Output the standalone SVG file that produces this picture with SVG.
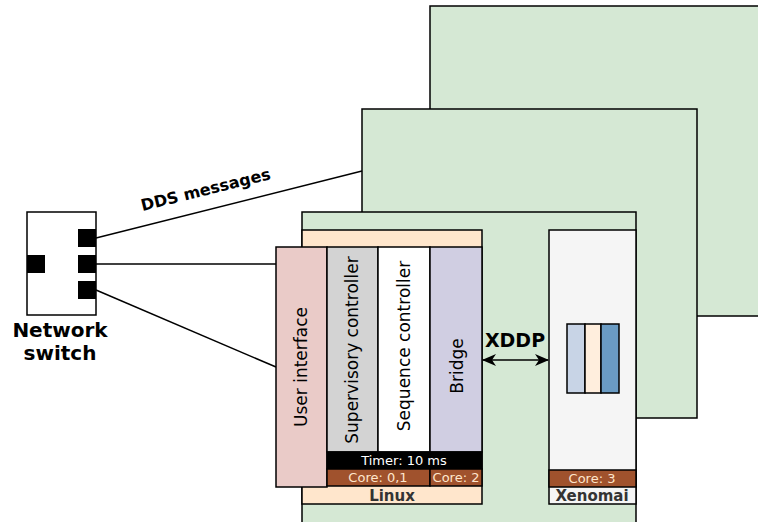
<svg xmlns="http://www.w3.org/2000/svg" width="758" height="522" viewBox="0 0 758 522">
  <defs>
    <style>
      text { font-family: "DejaVu Sans", "Liberation Sans", sans-serif; }
      .box { stroke: #000; stroke-width: 1.5; }
      .panel { fill: #d5e8d4; }
      .link { stroke: #000; stroke-width: 1.5; fill: none; }
      .port { fill: #000; }
      .lbl { font-size: 17px; fill: #000; text-anchor: middle; }
      .bold { font-weight: bold; }
      .core { fill: #a0522d; }
      .coretxt { font-size: 13px; fill: #ffe6cc; text-anchor: middle; }
      .os { font-size: 15px; font-weight: bold; fill: #333; text-anchor: middle; }
    </style>
    <marker id="arrow" viewBox="0 0 14 12" refX="13" refY="6" markerWidth="14" markerHeight="12" markerUnits="userSpaceOnUse" orient="auto-start-reverse">
      <path d="M0,0 L14,6 L0,12 L4,6 z" fill="#000"/>
    </marker>
  </defs>

  <!-- stacked hardware nodes -->
  <g id="node-back">
    <rect class="box panel" x="430" y="6" width="340" height="310"/>
  </g>
  <g id="node-middle">
    <rect class="box panel" x="362" y="109" width="335" height="309"/>
  </g>
  <g id="node-front">
    <rect class="box panel" x="302" y="212" width="334" height="320"/>
  </g>

  <!-- connectors -->
  <g id="connectors">
    <line class="link" x1="96" y1="238" x2="362" y2="171"/>
    <line class="link" x1="96" y1="264" x2="276" y2="264"/>
    <line class="link" x1="96" y1="290" x2="276" y2="367"/>
    <line class="link" x1="483" y1="360" x2="548" y2="360" marker-start="url(#arrow)" marker-end="url(#arrow)"/>
    <text class="lbl bold" x="207" y="195" transform="rotate(-14 207 195)" style="font-size:16px">DDS messages</text>
    <text class="lbl bold" x="515" y="347" style="font-size:19px">XDDP</text>
  </g>

  <!-- network switch -->
  <g id="network-switch">
    <rect class="box" x="27" y="212" width="69" height="103" fill="#fff"/>
    <rect class="port" x="78" y="229" width="18" height="18"/>
    <rect class="port" x="78" y="255" width="18" height="18"/>
    <rect class="port" x="78" y="281" width="18" height="18"/>
    <rect class="port" x="27" y="255" width="18" height="18"/>
    <text class="lbl bold" x="60" y="337" style="font-size:20px">Network</text>
    <text class="lbl bold" x="60" y="360" style="font-size:20px">switch</text>
  </g>

  <!-- Linux partition -->
  <g id="linux">
    <rect class="box" x="302" y="230" width="180" height="274" fill="#ffe6cc"/>
    <text class="os" x="392" y="501">Linux</text>
  </g>
  <g id="user-interface">
    <rect class="box" x="276" y="247" width="51" height="240" fill="#eacbc8"/>
    <text class="lbl" transform="translate(307 367) rotate(-90)">User interface</text>
  </g>
  <g id="supervisory-controller">
    <rect class="box" x="327" y="247" width="51" height="205" fill="#d3d3d3"/>
    <text class="lbl" transform="translate(358 350) rotate(-90)">Supervisory controller</text>
  </g>
  <g id="sequence-controller">
    <rect class="box" x="378" y="247" width="52" height="205" fill="#fff"/>
    <text class="lbl" transform="translate(410 346) rotate(-90)">Sequence controller</text>
  </g>
  <g id="bridge">
    <rect class="box" x="430" y="247" width="52" height="205" fill="#d0cee2"/>
    <text class="lbl" transform="translate(463 366) rotate(-90)">Bridge</text>
  </g>
  <g id="timer">
    <rect class="box" x="327" y="452" width="155" height="17" fill="#000"/>
    <text x="404" y="465" style="font-size:13px;fill:#fff;text-anchor:middle">Timer: 10 ms</text>
  </g>
  <g id="core-01">
    <rect class="box core" x="327" y="469" width="103" height="17"/>
    <text class="coretxt" x="378" y="482">Core: 0,1</text>
  </g>
  <g id="core-2">
    <rect class="box core" x="430" y="469" width="52" height="17"/>
    <text class="coretxt" x="456" y="482">Core: 2</text>
  </g>

  <!-- Xenomai partition -->
  <g id="xenomai">
    <rect class="box" x="549" y="230" width="87" height="274" fill="#f5f5f5"/>
    <text class="os" x="592" y="501">Xenomai</text>
  </g>
  <g id="core-3">
    <rect class="box core" x="549" y="470" width="87" height="17"/>
    <text class="coretxt" x="592" y="483">Core: 3</text>
  </g>
  <g id="rt-tasks">
    <rect class="box" x="567" y="324" width="18" height="69" fill="#c8d4e6"/>
    <rect class="box" x="585" y="324" width="16" height="69" fill="#ffeedd"/>
    <rect class="box" x="601" y="324" width="18" height="69" fill="#6a9bc3"/>
  </g>
</svg>
